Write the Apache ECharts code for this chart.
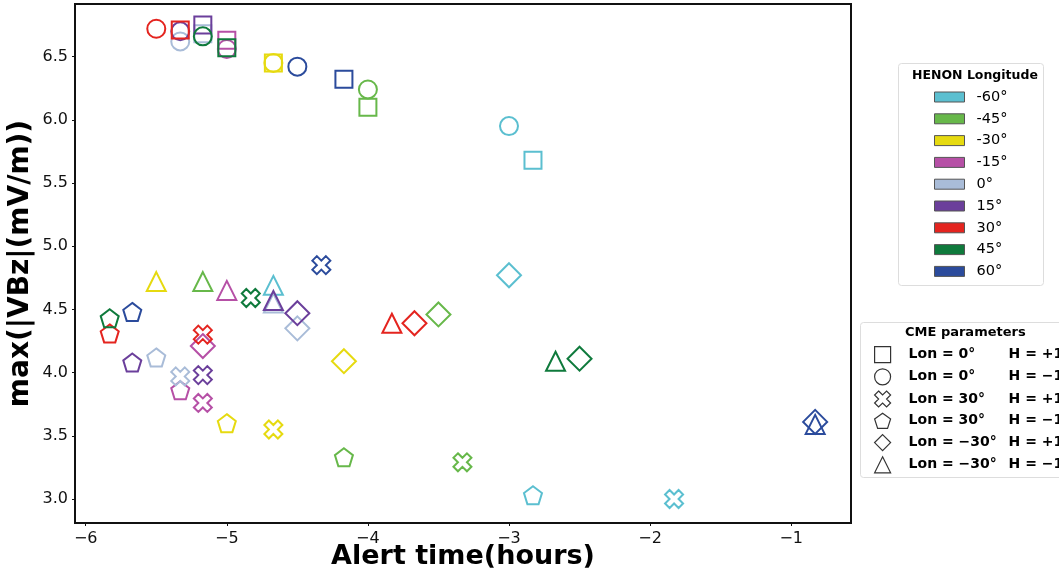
<!DOCTYPE html>
<html>
<head>
<meta charset="utf-8">
<script src="https://cdn.jsdelivr.net/npm/echarts@6/dist/echarts.min.js"></script>
<style>
  html, body { margin: 0; padding: 0; background: #fff; }
  #chart { width: 1059px; height: 576px; }
</style>
</head>
<body>
<div id="chart"></div>
<script>
// HENON longitude groups (legend + colours)
var lonNames = ['-60°', '-45°', '-30°', '-15°', '0°', '15°', '30°', '45°', '60°'];
var lonColors = ['#5bbfd0', '#67b84a', '#e6da10', '#b650a6', '#a9bcd8', '#6b3f9b', '#e4241f', '#0f7a3c', '#2b4b9c'];

// CME parameter shapes: 0 square, 1 circle, 2 X, 3 pentagon, 4 diamond, 5 triangle
var shapeLon = ['0°', '0°', '30°', '30°', '−30°', '−30°'];
var shapeH = ['+1', '−1', '+1', '−1', '+1', '−1'];

// per longitude group: alert time (hours), max|VBz| for each shape
var time60m = [-2.83, -3.0, -1.83, -2.83, -3.0, -4.67];
var vbz60m  = [5.68, 5.95, 3.0, 3.03, 4.77, 4.69];
var time45m = [-4.0, -4.0, -3.33, -4.17, -3.5, -5.17];
var vbz45m  = [6.10, 6.24, 3.29, 3.33, 4.46, 4.72];
var time30m = [-4.67, -4.67, -4.67, -5.0, -4.17, -5.5];
var vbz30m  = [6.45, 6.45, 3.55, 3.60, 4.09, 4.72];
var time15m = [-5.0, -5.0, -5.17, -5.33, -5.17, -5.0];
var vbz15m  = [6.63, 6.56, 3.76, 3.86, 4.21, 4.65];
var time0   = [-5.17, -5.33, -5.33, -5.5, -4.5, -4.67];
var vbz0    = [6.68, 6.62, 3.97, 4.12, 4.35, 4.55];
var time15  = [-5.17, -5.33, -5.17, -5.67, -4.5, -4.67];
var vbz15   = [6.75, 6.70, 3.98, 4.08, 4.47, 4.57];
var time30  = [-5.33, -5.5, -5.17, -5.83, -3.67, -3.83];
var vbz30   = [6.71, 6.72, 4.30, 4.31, 4.39, 4.39];
var time45  = [-5.0, -5.17, -4.83, -5.83, -2.5, -2.67];
var vbz45   = [6.57, 6.66, 4.59, 4.43, 4.11, 4.09];
var time60  = [-4.17, -4.5, -4.33, -5.67, -0.83, -0.83];
var vbz60   = [6.32, 6.42, 4.85, 4.48, 3.61, 3.59];

var xTicks = [-6, -5, -4, -3, -2, -1];
var yTicks = [3.0, 3.5, 4.0, 4.5, 5.0, 5.5, 6.0, 6.5];

var allTimes = [time60m, time45m, time30m, time15m, time0, time15, time30, time45, time60];
var allVbz = [vbz60m, vbz45m, vbz30m, vbz15m, vbz0, vbz15, vbz30, vbz45, vbz60];

var xPath = 'path://M0.25,0 L0.5,0.25 L0.75,0 L1,0.25 L0.75,0.5 L1,0.75 L0.75,1 L0.5,0.75 L0.25,1 L0,0.75 L0.25,0.5 L0,0.25 Z';
var pentPath = 'path://M0,-1 L0.951,-0.309 L0.588,0.809 L-0.588,0.809 L-0.951,-0.309 Z';
var shapeSymbols = ['rect', 'circle', xPath, pentPath, 'diamond', 'triangle'];
var shapeSizes = [17, 18, 18, 18, 24, 19];

var FONT = 'DejaVu Sans';

function minus(v) {
    return String(v).replace('-', '\u2212');
}

var series = [];
for (var i = 0; i < lonNames.length; i++) {
    var d = [];
    for (var k = 0; k < 6; k++) {
        d.push([allTimes[i][k], allVbz[i][k], k]);
    }
    series.push({
        name: lonNames[i],
        type: 'scatter',
        data: d,
        symbol: function(val) { return shapeSymbols[val[2]]; },
        symbolSize: function(val) { return shapeSizes[val[2]]; },
        itemStyle: {
            color: 'rgba(255,255,255,0)',
            borderColor: lonColors[i],
            borderWidth: 2,
            opacity: 1
        },
        emphasis: { disabled: true }
    });
}

var shapeLegend = [];
for (var k = 0; k < 6; k++) {
    var nm = 'Lon = ' + shapeLon[k] + '|H = ' + shapeH[k];
    shapeLegend.push({
        name: nm,
        icon: shapeSymbols[k],
        itemStyle: { color: 'rgba(255,255,255,0)', borderColor: '#000', borderWidth: 1.2 }
    });
    series.push({
        name: nm,
        type: 'scatter',
        data: [],
        symbol: shapeSymbols[k],
        itemStyle: { color: 'rgba(255,255,255,0)', borderColor: '#000', borderWidth: 1.2 }
    });
}

var colorLegend = [];
for (var i = 0; i < lonNames.length; i++) {
    colorLegend.push({
        name: lonNames[i],
        icon: 'rect',
        itemStyle: { color: lonColors[i], borderColor: '#555', borderWidth: 1 }
    });
}

var chart = echarts.init(document.getElementById('chart'));
var option = {
    animation: false,
    textStyle: { fontFamily: FONT },
    grid: {
        left: 75, right: 208, top: 4, bottom: 53,
        outerBoundsMode: 'none',
        containLabel: false,
        show: true, borderColor: '#111', borderWidth: 2, backgroundColor: '#fff'
    },
    xAxis: {
        type: 'value',
        min: -6.076, max: -0.576,
        name: 'Alert time(hours)',
        nameLocation: 'middle',
        nameGap: 20,
        nameMoveOverlap: false,
        nameTextStyle: { fontFamily: FONT, fontSize: 27, fontWeight: 'bold', color: '#000' },
        axisLine: { show: true, lineStyle: { color: '#111', width: 2 } },
        axisTick: { show: true, length: 3, lineStyle: { color: '#111' }, customValues: xTicks },
        axisLabel: { fontFamily: FONT, fontSize: 16, color: '#111', margin: 8, customValues: xTicks,
            formatter: function(v) { return minus(v); } },
        splitLine: { show: false }
    },
    yAxis: {
        type: 'value',
        min: 2.81, max: 6.916,
        name: 'max(|VBz|(mV/m))',
        nameLocation: 'middle',
        nameGap: 40,
        nameMoveOverlap: false,
        nameTextStyle: { fontFamily: FONT, fontSize: 28, fontWeight: 'bold', color: '#000' },
        axisLine: { show: true, lineStyle: { color: '#111', width: 2 } },
        axisTick: { show: true, length: 3, lineStyle: { color: '#111' }, customValues: yTicks },
        axisLabel: { fontFamily: FONT, fontSize: 16, color: '#111', margin: 7, customValues: yTicks,
            formatter: function(v) { return v.toFixed(1); } },
        splitLine: { show: false }
    },
    legend: [
        {
            orient: 'vertical',
            left: 934, top: 89,
            padding: 0,
            itemWidth: 30, itemHeight: 10,
            itemGap: 5.8,
            selectedMode: false,
            data: colorLegend,
            textStyle: { fontFamily: FONT, fontSize: 14.5, color: '#000', lineHeight: 16, padding: [0, 0, 0, 7] }
        },
        {
            orient: 'vertical',
            left: 874, top: 346,
            padding: 0,
            itemWidth: 16, itemHeight: 16,
            itemGap: 5,
            selectedMode: false,
            data: shapeLegend,
            formatter: function(name) {
                var p = name.split('|');
                return '{a|' + p[0] + '}{b|' + p[1] + '}';
            },
            textStyle: {
                fontFamily: FONT, fontSize: 14, fontWeight: 'bold', color: '#000', lineHeight: 16,
                rich: {
                    a: { fontFamily: FONT, fontSize: 14, fontWeight: 'bold', color: '#000', width: 100, padding: [0, 0, 0, 13] },
                    b: { fontFamily: FONT, fontSize: 14, fontWeight: 'bold', color: '#000' }
                }
            }
        }
    ],
    graphic: [
        { type: 'rect', left: 898, top: 63, z: 0,
          shape: { width: 145, height: 222, r: 3 },
          style: { fill: '#fff', stroke: '#ddd', lineWidth: 1 } },
        { type: 'text', left: 912, top: 69,
          style: { text: 'HENON Longitude', fill: '#000', font: 'bold 12.5px "DejaVu Sans"' } },
        { type: 'rect', left: 860, top: 322, z: 0,
          shape: { width: 220, height: 155, r: 3 },
          style: { fill: '#fff', stroke: '#ddd', lineWidth: 1 } },
        { type: 'text', left: 905, top: 326,
          style: { text: 'CME parameters', fill: '#000', font: 'bold 13px "DejaVu Sans"' } }
    ],
    series: series
};
chart.setOption(option);
</script>
</body>
</html>
